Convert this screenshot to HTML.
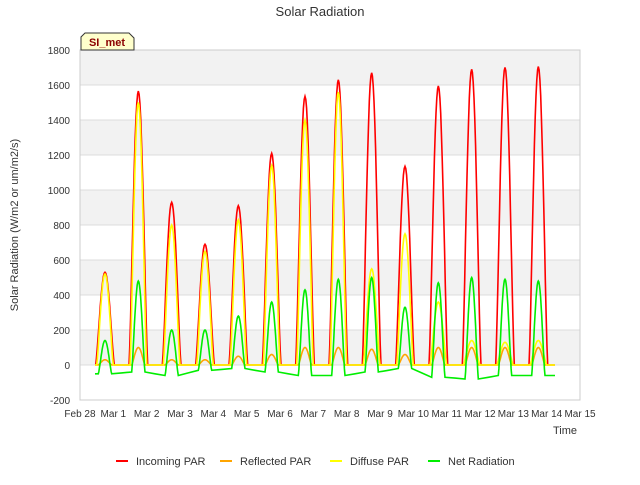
<!DOCTYPE html>
<html><head><meta charset="utf-8"><style>
body{margin:0;background:#fff;font-family:"Liberation Sans",sans-serif}
svg text{font-family:"Liberation Sans",sans-serif}
</style></head><body>
<svg id="chart" width="640" height="480" xmlns="http://www.w3.org/2000/svg"></svg>
<script>
const dayLabels=["Feb 28","Mar 1","Mar 2","Mar 3","Mar 4","Mar 5","Mar 6","Mar 7","Mar 8","Mar 9","Mar 10","Mar 11","Mar 12","Mar 13","Mar 14","Mar 15"];
const yTicks=[-200,0,200,400,600,800,1000,1200,1400,1600,1800];
const incomingPeaks=[530,1565,930,690,910,1210,1535,1630,1670,1135,1595,1690,1700,1705];
const reflectedPeaks=[30,100,30,30,50,60,100,100,90,60,100,100,100,100];
const diffusePeaks=[520,1500,800,650,830,1140,1400,1560,550,750,360,140,130,140];
const netPeaks=[140,480,200,200,280,360,430,490,500,330,470,500,490,480];
const netNight=[-50,-40,-60,-30,-20,-40,-60,-60,-40,-20,-70,-80,-60,-60];
const seriesNames=["Incoming PAR","Reflected PAR","Diffuse PAR","Net Radiation"];
const seriesColors=["#ff0000","#ffa500","#ffff00","#00ee00"];

const L=80,R=580,T=50,B=400,xMin=0,xMax=15,yMin=-200,yMax=1800;
const xs=t=>L+(t-xMin)/(xMax-xMin)*(R-L);
const ys=v=>B-(v-yMin)/(yMax-yMin)*(B-T);
const svg=document.getElementById('chart');
const NS="http://www.w3.org/2000/svg";
function mk(tag,attrs,parent){const e=document.createElementNS(NS,tag);for(const k in attrs)e.setAttribute(k,attrs[k]);(parent||svg).appendChild(e);return e;}

const bg=mk('rect',{x:L,y:T,width:R-L,height:B-T,fill:'#ffffff'});


for(let i=0;i<yTicks.length-1;i++){
  if(yTicks[i]>=0 && (yTicks[i]/200)%2===0){
    const b=mk('rect',{x:L,y:ys(yTicks[i+1]),width:R-L,height:ys(yTicks[i])-ys(yTicks[i+1]),fill:'#f2f2f2'});
    
    
  }
}
yTicks.forEach(v=>{
  const g=mk('line',{x1:L,x2:R,y1:ys(v),y2:ys(v),stroke:'#dcdcdc','stroke-width':1});
  
  
  const t=mk('text',{x:L-10,y:ys(v)+4,'text-anchor':'end','font-size':10,fill:'#333'});
  t.textContent=v;
  
  
});
dayLabels.forEach((d,i)=>{
  const t=mk('text',{x:xs(i),y:B+17,'text-anchor':'middle','font-size':10,fill:'#333'});
  t.textContent=d;
  
  
});
const ax=mk('rect',{x:L,y:T,width:R-L,height:B-T,fill:'none',stroke:'#cccccc'});



function dayCurve(peaks,base,halfW,nightArr){
  let pts=[];
  const n=peaks.length;
  pts.push([0.45,nightArr?nightArr[0]:base]);
  for(let d=0;d<n;d++){
    const c=d+0.75, nv=nightArr?nightArr[d]:base;
    const steps=24;
    for(let s=0;s<=steps;s++){
      const t=c-halfW+2*halfW*s/steps;
      const f=Math.sin(Math.PI*s/steps);
      pts.push([t,nv+(peaks[d]-nv)*Math.pow(f,1.3)]);
    }
    const nxt=nightArr&&d+1<n?nightArr[d+1]:nv;
    pts.push([c+0.5,(nv+nxt)/2]);
  }
  return pts;
}
const curves=[
  dayCurve(incomingPeaks,0,0.28,null),
  dayCurve(reflectedPeaks,0,0.2,null),
  dayCurve(diffusePeaks,0,0.25,null),
  dayCurve(netPeaks,0,0.2,netNight)
];
const snames=['incoming-par-line','reflected-par-line','diffuse-par-line','net-radiation-line'];
curves.forEach((pts,i)=>{
  const d=pts.map((p,j)=>(j?'L':'M')+xs(p[0]).toFixed(1)+','+ys(p[1]).toFixed(1)).join('');
  const p=mk('path',{d:d,fill:'none',stroke:seriesColors[i],'stroke-width':1.6});
  
  
});

let t=mk('text',{x:320,y:16,'text-anchor':'middle','font-size':13,fill:'#333'});t.textContent='Solar Radiation';


t=mk('text',{x:565,y:434,'text-anchor':'middle','font-size':11,fill:'#333'});t.textContent='Time';


t=mk('text',{x:18,y:225,'text-anchor':'middle','font-size':11,fill:'#333',transform:'rotate(-90 18 225)'});t.textContent='Solar Radiation (W/m2 or um/m2/s)';



const lb=mk('path',{d:'M81,50 L81,37 L85,33 L129,33 L134,38 L134,50 Z',fill:'#ffffcc',stroke:'#333','stroke-width':1});


t=mk('text',{x:107,y:46,'text-anchor':'middle','font-size':11,'font-weight':'bold',fill:'#8b0000'});t.textContent='SI_met';



const legX=[116,220,330,428];
seriesNames.forEach((n,i)=>{
  const g=mk('g',{});
  
  
  mk('line',{x1:legX[i],x2:legX[i]+12,y1:461,y2:461,stroke:seriesColors[i],'stroke-width':2},g);
  const tx=mk('text',{x:legX[i]+20,y:465,'font-size':11,fill:'#333'},g);tx.textContent=n;
});
</script>
</body></html>
